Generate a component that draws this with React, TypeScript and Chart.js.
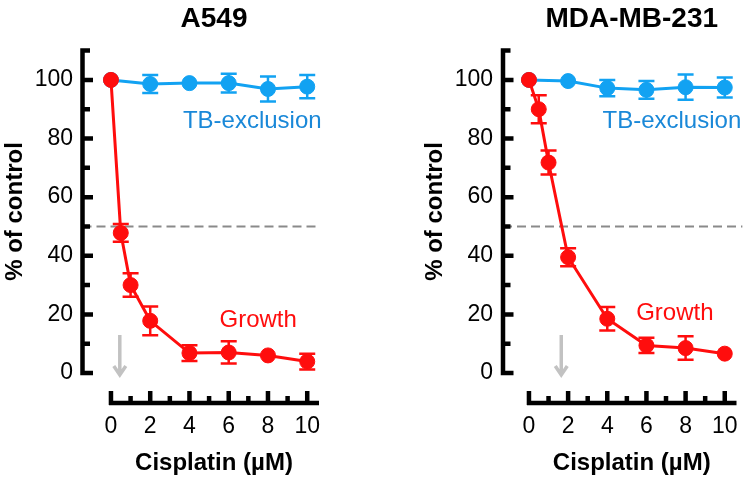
import React, { useEffect, useRef } from "react";
import { Chart, registerables } from "chart.js";

Chart.register(...registerables);

const FONT = "'Liberation Sans', Arial, Helvetica, sans-serif";
const RED = "#ff0d0d";
const BLUE = "#12a2f2";
const BLUE_TEXT = "#1a88d8";
const ARROW_GREY = "#c2c2c2";
const DASH_GREY = "#8a8a8a";

// cisplatin concentrations (µM)
const growthDose = [0, 0.5, 1, 2, 4, 6, 8, 10];
const tbDose = [0, 2, 4, 6, 8, 10];

// A549, % of control
const a549Growth = [100, 47.8, 30, 17.8, 6.8, 7, 6, 3.9];
const a549GrowthErr = [0, 3, 4, 4.9, 2.7, 3.8, 0, 2.7];
const a549Tb = [100, 98.6, 98.9, 98.9, 96.9, 97.7];
const a549TbErr = [0, 3.1, 0, 3.2, 4.3, 4];

// MDA-MB-231, % of control
const mdaGrowth = [100, 90, 71.8, 39.5, 18.5, 9.4, 8.5, 6.6];
const mdaGrowthErr = [0, 4.8, 4.1, 3.1, 4, 2.6, 4, 0];
const mdaTb = [100, 99.6, 97.2, 96.6, 97.5, 97.4];
const mdaTbErr = [0, 0, 2.8, 3, 4.3, 3.4];

const xTicks = [0, 2, 4, 6, 8, 10];
const xMinor = [1, 3, 5, 7, 9];
const yTicks = [0, 20, 40, 60, 80, 100];
const yMinor = [10, 30, 50, 70, 90, 110];
const halfLine = 50;
const arrowSpan = [13, -1];

interface PanelProps {
  title: string;
  growth: number[];
  growthErr: number[];
  tb: number[];
  tbErr: number[];
  arrowDose: number;
  tbLabel: number[];
  growthLabel: number[];
  dashEnd: number;
  left: number;
  width: number;
  areaLeft: number;
  areaRight: number;
  axisGap: number;
  yTitlePad: number;
  yTickPad: number;
}

const Panel: React.FC<PanelProps> = (p) => {
  const canvasRef = useRef<HTMLCanvasElement>(null);
  const chartRef = useRef<Chart | null>(null);

  useEffect(() => {
    if (!canvasRef.current) return;
    if (chartRef.current) chartRef.current.destroy();

    const decor = {
      id: "prismDecor",
      beforeDatasetsDraw(chart: any) {
        const { ctx, chartArea } = chart;
        const xs = chart.scales.x;
        const ys = chart.scales.y;
        const ax = chartArea.left - p.axisGap;
        const ay = chartArea.bottom + 30;
        ctx.save();

        // 50 % guide
        const yh = ys.getPixelForValue(halfLine);
        ctx.strokeStyle = DASH_GREY;
        ctx.lineWidth = 2;
        ctx.setLineDash([9, 5]);
        ctx.beginPath();
        ctx.moveTo(ax, yh);
        ctx.lineTo(xs.getPixelForValue(p.dashEnd), yh);
        ctx.stroke();
        ctx.setLineDash([]);

        // IC50 arrow
        const px = xs.getPixelForValue(p.arrowDose);
        const top = ys.getPixelForValue(arrowSpan[0]);
        const tip = ys.getPixelForValue(arrowSpan[1]);
        ctx.strokeStyle = ARROW_GREY;
        ctx.lineWidth = 3.5;
        ctx.beginPath();
        ctx.moveTo(px, top);
        ctx.lineTo(px, tip - 2);
        ctx.moveTo(px - 6, tip - 10);
        ctx.lineTo(px, tip - 1);
        ctx.lineTo(px + 6, tip - 10);
        ctx.stroke();

        // axes
        ctx.strokeStyle = "#000";
        ctx.lineWidth = 4.5;
        ctx.beginPath();
        ctx.moveTo(ax, ys.getPixelForValue(110) - 2.25);
        ctx.lineTo(ax, ys.getPixelForValue(0) + 2.25);
        yTicks.forEach((v) => {
          const py = ys.getPixelForValue(v);
          ctx.moveTo(ax, py);
          ctx.lineTo(ax + 10.5, py);
        });
        yMinor.forEach((v) => {
          const py = ys.getPixelForValue(v);
          ctx.moveTo(ax, py);
          ctx.lineTo(ax + 7.5, py);
        });
        ctx.moveTo(chartArea.left, ay);
        ctx.lineTo(chartArea.right, ay);
        xTicks.forEach((v) => {
          const tx = xs.getPixelForValue(v);
          ctx.moveTo(tx, ay + 2);
          ctx.lineTo(tx, ay - 12);
        });
        xMinor.forEach((v) => {
          const tx = xs.getPixelForValue(v);
          ctx.moveTo(tx, ay + 2);
          ctx.lineTo(tx, ay - 7);
        });
        ctx.stroke();

        // error bars
        const bars = (dose: number[], val: number[], err: number[], color: string) => {
          ctx.strokeStyle = color;
          ctx.lineWidth = 2.5;
          ctx.beginPath();
          dose.forEach((d, i) => {
            if (!err[i]) return;
            const bx = xs.getPixelForValue(d);
            const hi = ys.getPixelForValue(val[i] + err[i]);
            const lo = ys.getPixelForValue(val[i] - err[i]);
            ctx.moveTo(bx, hi);
            ctx.lineTo(bx, lo);
            ctx.moveTo(bx - 8, hi);
            ctx.lineTo(bx + 8, hi);
            ctx.moveTo(bx - 8, lo);
            ctx.lineTo(bx + 8, lo);
          });
          ctx.stroke();
        };
        bars(tbDose, p.tb, p.tbErr, BLUE);
        bars(growthDose, p.growth, p.growthErr, RED);
        ctx.restore();
      },
      afterDatasetsDraw(chart: any) {
        const { ctx } = chart;
        const xs = chart.scales.x;
        const ys = chart.scales.y;
        ctx.save();
        ctx.font = `24px ${FONT}`;
        ctx.textAlign = "center";
        ctx.textBaseline = "middle";
        ctx.fillStyle = BLUE_TEXT;
        ctx.fillText("TB-exclusion", xs.getPixelForValue(p.tbLabel[0]), ys.getPixelForValue(p.tbLabel[1]));
        ctx.fillStyle = RED;
        ctx.fillText("Growth", xs.getPixelForValue(p.growthLabel[0]), ys.getPixelForValue(p.growthLabel[1]));
        ctx.restore();
      },
    };

    const series = (dose: number[], val: number[], color: string, order: number) => ({
      data: dose.map((x, i) => ({ x, y: val[i] })),
      borderColor: color,
      backgroundColor: color,
      pointBackgroundColor: color,
      pointBorderColor: color,
      borderWidth: 3,
      pointRadius: 7.5,
      pointBorderWidth: 1,
      tension: 0,
      clip: false as const,
      order,
    });

    chartRef.current = new Chart(canvasRef.current, {
      type: "line",
      data: {
        datasets: [
          series(growthDose, p.growth, RED, 0),
          series(tbDose, p.tb, BLUE, 1),
        ] as any,
      },
      plugins: [decor],
      options: {
        responsive: true,
        maintainAspectRatio: false,
        animation: false,
        events: [],
        layout: { padding: { left: 0, right: p.width - p.areaRight, top: 0, bottom: 0 } },
        plugins: {
          legend: { display: false },
          tooltip: { enabled: false },
          title: {
            display: true,
            text: p.title,
            fullSize: false,
            color: "#000",
            font: { family: FONT, size: 28, weight: "bold" },
            padding: { top: 2.7, bottom: 13.7 },
          },
        },
        scales: {
          x: {
            type: "linear",
            min: -0.1,
            max: 10.6,
            grid: { display: false, drawTicks: false },
            border: { display: false },
            afterBuildTicks: (axis: any) => {
              axis.ticks = xTicks.map((v) => ({ value: v }));
            },
            afterFit: (axis: any) => {
              axis.height = 110;
              axis.paddingLeft = 0;
              axis.paddingRight = 0;
            },
            ticks: {
              color: "#000",
              padding: 40,
              maxRotation: 0,
              autoSkip: false,
              font: { family: FONT, size: 23 },
            },
            title: {
              display: true,
              text: "Cisplatin (µM)",
              color: "#000",
              font: { family: FONT, size: 24, weight: "bold" },
              padding: { top: 0, bottom: 5.6 },
            },
          },
          y: {
            type: "linear",
            min: 0,
            max: 110.2,
            grid: { display: false, drawTicks: false },
            border: { display: false },
            afterBuildTicks: (axis: any) => {
              axis.ticks = yTicks.map((v) => ({ value: v }));
            },
            afterFit: (axis: any) => {
              axis.width = p.areaLeft;
            },
            ticks: {
              color: "#000",
              padding: p.yTickPad,
              font: { family: FONT, size: 23 },
            },
            title: {
              display: true,
              text: "% of control",
              color: "#000",
              font: { family: FONT, size: 24, weight: "bold" },
              padding: { top: p.yTitlePad, bottom: 0 },
            },
          },
        },
      },
    });

    return () => {
      if (chartRef.current) {
        chartRef.current.destroy();
        chartRef.current = null;
      }
    };
  }, []);

  return (
    <div style={{ position: "absolute", left: p.left, top: 0, width: p.width, height: 483 }}>
      <canvas ref={canvasRef}></canvas>
    </div>
  );
};

const App: React.FC = () => (
  <div style={{ position: "absolute", left: 0, top: 0, width: 745, height: 483, background: "#fff" }}>
    <Panel
      title="A549"
      growth={a549Growth}
      growthErr={a549GrowthErr}
      tb={a549Tb}
      tbErr={a549TbErr}
      arrowDose={0.45}
      tbLabel={[7.2, 85.7]}
      growthLabel={[7.5, 18]}
      dashEnd={10.55}
      left={0}
      width={372}
      areaLeft={109}
      areaRight={319}
      axisGap={26.5}
      yTitlePad={0.6}
      yTickPad={36}
    />
    <Panel
      title="MDA-MB-231"
      growth={mdaGrowth}
      growthErr={mdaGrowthErr}
      tb={mdaTb}
      tbErr={mdaTbErr}
      arrowDose={1.65}
      tbLabel={[7.3, 85.7]}
      growthLabel={[7.45, 20.5]}
      dashEnd={10.9}
      left={372}
      width={373}
      areaLeft={155}
      areaRight={366}
      axisGap={24}
      yTitlePad={48.6}
      yTickPad={34}
    />
  </div>
);

export default App;
